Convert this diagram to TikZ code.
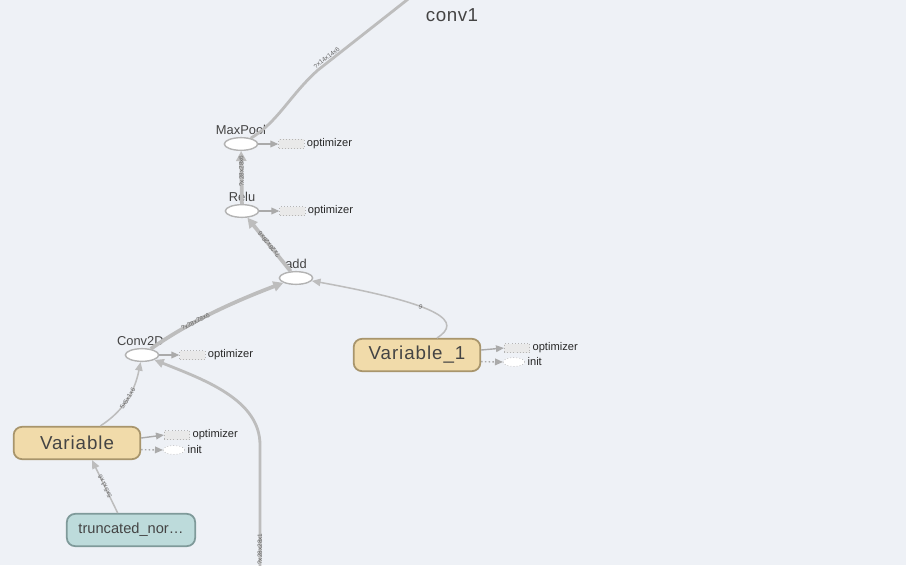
\documentclass[tikz,border=0pt]{standalone}
\usepackage{fontspec}
\setmainfont{Liberation Sans}
\usepackage{xcolor}
\usepackage{tikz}
\usetikzlibrary{positioning,shapes.geometric,arrows.meta}
\definecolor{CanvasGrey}{HTML}{EEF1F6}
\definecolor{EdgeGrey}{HTML}{BDBDBD}
\definecolor{ArrowGrey}{HTML}{AAAAAA}
\definecolor{AuxGrey}{HTML}{B5B5B5}
\definecolor{OptFill}{HTML}{E9E9E9}
\definecolor{OpStroke}{HTML}{B3B3B3}
\definecolor{VarFill}{HTML}{F1DBAA}
\definecolor{VarStroke}{HTML}{A8956C}
\definecolor{ConstFill}{HTML}{BDDBDB}
\definecolor{ConstStroke}{HTML}{7F9A9A}
\definecolor{LabelGrey}{HTML}{444444}
\tikzset{
  opnode/.style={
    ellipse,draw=OpStroke,fill=white,line width=1.2pt,
    minimum width=1.0cm,minimum height=0.38cm,inner sep=0pt
  },
  optext/.style={font=\fontsize{11}{13}\selectfont,text=LabelGrey,inner sep=1pt},
  varnode/.style={
    draw=VarStroke,fill=VarFill,rounded corners=0.25cm,line width=1.5pt,
    minimum width=3.8cm,minimum height=0.97cm,
    font=\fontsize{16}{19}\selectfont\addfontfeature{LetterSpace=5},text=LabelGrey
  },
  constnode/.style={
    draw=ConstStroke,fill=ConstFill,rounded corners=0.25cm,line width=1.5pt,
    minimum width=3.85cm,minimum height=0.97cm,
    font=\fontsize{12.5}{15}\selectfont,text=LabelGrey
  },
  optbox/.style={
    draw=AuxGrey,dotted,fill=OptFill,line width=0.6pt,
    minimum width=0.76cm,minimum height=0.27cm,inner sep=0pt
  },
  initnode/.style={
    ellipse,draw=AuxGrey,dotted,fill=white,line width=0.6pt,
    minimum width=0.64cm,minimum height=0.27cm,inner sep=0pt
  },
  auxtext/.style={font=\fontsize{9.5}{11}\selectfont,text=black!85,inner sep=1pt},
  auxarrow/.style={draw=ArrowGrey,line width=1.2pt,-{Triangle[length=0.24cm,width=0.2cm]}},
  edgethin/.style={draw=EdgeGrey,line width=1.3pt,-{Triangle[length=0.26cm,width=0.22cm]}},
  edgethick/.style={draw=EdgeGrey,line width=3.2pt,-{Triangle[length=0.3cm,width=0.3cm]}},
  edgemid/.style={draw=EdgeGrey,line width=2.4pt},
  edgelbl/.style={
    font=\fontsize{5.5}{6}\selectfont,text=black!60,
    sloped,allow upside down,inner sep=0.5pt
  },
}
\begin{document}
\begin{tikzpicture}[x=0.03cm,y=-0.03cm]
  \fill[CanvasGrey] (0,0) rectangle (906,565);
  \useasboundingbox (0,0) rectangle (906,565);
  \clip (0,0) rectangle (906,565);
  % scope title
  \node[font=\fontsize{16}{19}\selectfont\addfontfeature{LetterSpace=3}, text=LabelGrey] (conv1) at (452,15) {conv1};
  \coordinate (conv1in) at (412,-4);
  \coordinate (inputin) at (260,575);
  % op nodes
  \node[opnode] (maxpool) at (241,144) {};
  \node[optext, above=1pt of maxpool] (maxpooltxt) {MaxPool};
  \node[opnode] (relu) at (242,211) {};
  \node[optext, above=1pt of relu] (relutxt) {Relu};
  \node[opnode] (add) at (296,278) {};
  \node[optext, above=1pt of add] (addtxt) {add};
  \node[opnode] (conv2d) at (142,355) {};
  \node[optext, above=1pt of conv2d, xshift=-0.05cm] (conv2dtxt) {Conv2D};
  % variables and constant
  \node[varnode] (var1) at (417,355) {Variable\_1};
  \node[varnode] (var) at (77,443) {Variable};
  \node[constnode] (trunc) at (131,530) {truncated\_nor\ldots};
  % optimizer and init stubs
  \node[optbox, right=0.6cm of maxpool] (maxpoolopt) {};
  \node[auxtext, right=1pt of maxpoolopt] (maxpoolopttxt) {optimizer};
  \node[optbox, right=0.6cm of relu] (reluopt) {};
  \node[auxtext, right=1pt of reluopt] (reluopttxt) {optimizer};
  \node[optbox, right=0.6cm of conv2d] (conv2dopt) {};
  \node[auxtext, right=1pt of conv2dopt] (conv2dopttxt) {optimizer};
  \node[optbox] (var1opt) at (517,348) {};
  \node[auxtext, right=1pt of var1opt] (var1opttxt) {optimizer};
  \node[initnode] (var1init) at (514,362) {};
  \node[auxtext, right=1pt of var1init] (var1inittxt) {init};
  \node[optbox] (varopt) at (177,435) {};
  \node[auxtext, right=1pt of varopt] (varopttxt) {optimizer};
  \node[initnode] (varinit) at (174,450) {};
  \node[auxtext, right=1pt of varinit] (varinittxt) {init};
  \draw[auxarrow] (maxpool.east) -- (maxpoolopt.west);
  \draw[auxarrow] (relu.east) -- (reluopt.west);
  \draw[auxarrow] (conv2d.east) -- (conv2dopt.west);
  \draw[auxarrow] ([yshift=0.15cm]var1.east) -- (var1opt.west);
  \draw[auxarrow, dotted] ([yshift=-0.2cm]var1.east) -- (var1init.west);
  \draw[auxarrow] ([yshift=0.15cm]var.east) -- (varopt.west);
  \draw[auxarrow, dotted] ([yshift=-0.2cm]var.east) -- (varinit.west);
  % data edges
  \draw[edgemid] (maxpool) .. controls (278,122) and (290,95) .. (318,70)
    -- node[edgelbl, above=0pt, pos=0.12] {?x14x14x6} (conv1in);
  \draw[edgethick] (relu) -- node[edgelbl, pos=0.62] {?x28x28x6} (maxpool);
  \draw[edgethick] (add) -- node[edgelbl] {?x28x28x6} (relu);
  \draw[edgethick] (conv2d) .. controls (185,325) and (225,305) .. node[edgelbl, pos=0.4] {?x28x28x6} (add);
  \draw[edgethin] ([xshift=0.6cm]var1.north) .. controls (462,322) and (445,305) .. node[edgelbl, pos=0.6] {6} (add);
  \draw[edgethin] ([xshift=0.7cm]var.north) .. controls (125,410) and (135,390) .. node[edgelbl, pos=0.5] {5x5x1x6} (conv2d);
  \draw[edgethin] ([xshift=-0.4cm]trunc.north) -- node[edgelbl] {5x5x1x6} ([xshift=0.45cm]var.south);
  \draw[edgemid, -{Triangle[length=0.28cm,width=0.26cm]}] (inputin)
    -- node[edgelbl, pos=0.2] {?x28x28x1} (260,445) .. controls (260,400) and (205,380) .. (conv2d);
\end{tikzpicture}
\end{document}
